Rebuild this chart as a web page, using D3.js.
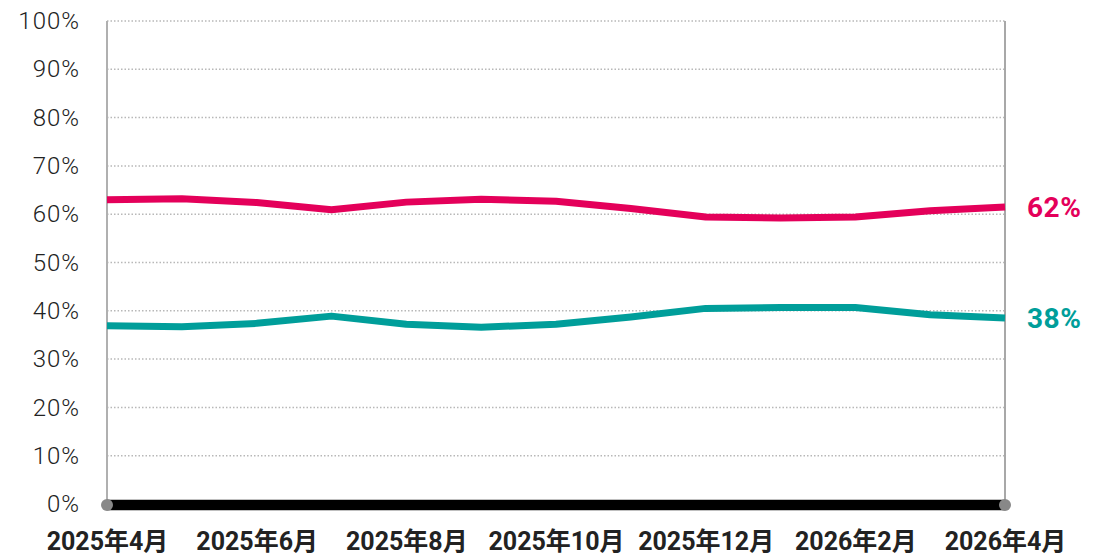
<!DOCTYPE html>
<html>
<head>
<meta charset="utf-8">
<script src="https://cdn.jsdelivr.net/npm/d3@7"></script>
<style>
  body { margin: 0; background: #fff; }
  svg { font-family: "Roboto", "Noto Sans CJK JP", sans-serif; }
</style>
</head>
<body>
<svg id="chart" width="1112" height="557"></svg>
<script>
// monthly points, 2025年4月 .. 2026年4月
const months = ['2025年4月','2025年5月','2025年6月','2025年7月','2025年8月','2025年9月','2025年10月',
  '2025年11月','2025年12月','2026年1月','2026年2月','2026年3月','2026年4月']
const redValues = [63.0, 63.2, 62.4, 60.9, 62.5, 63.1, 62.7, 61.2, 59.4, 59.2, 59.4, 60.7, 61.5]
const tealValues = [36.9, 36.7, 37.4, 38.9, 37.2, 36.6, 37.2, 38.7, 40.5, 40.7, 40.7, 39.2, 38.5]
const endLabels = ['62%', '38%']
const yTicks = [0, 10, 20, 30, 40, 50, 60, 70, 80, 90, 100]
const xTickLabels = ['2025年4月','2025年6月','2025年8月','2025年10月','2025年12月','2026年2月','2026年4月']

const RED = '#e4005a'
const TEAL = '#009e9a'

const svg = d3.select('#chart')
const margin = { top: 21, left: 107, right: 107, bottom: 53 }
const width = 1112, height = 557

const x = d3.scalePoint()
  .domain(months)
  .range([margin.left, width - margin.right])

const y = d3.scaleLinear()
  .domain([0, 100])
  .range([height - margin.bottom, margin.top])

// dotted gridlines
svg.append('g')
  .selectAll('line')
  .data(yTicks.filter(d => d > 0))
  .join('line')
    .attr('x1', margin.left)
    .attr('x2', width - margin.right)
    .attr('y1', d => y(d))
    .attr('y2', d => y(d))
    .attr('stroke', '#b8b8b8')
    .attr('stroke-width', 1.5)
    .attr('stroke-dasharray', '1.5,2')

// left and right frame lines
svg.append('line')
  .attr('x1', margin.left).attr('x2', margin.left)
  .attr('y1', y(100)).attr('y2', y(0))
  .attr('stroke', '#b0b0b0').attr('stroke-width', 2)
svg.append('line')
  .attr('x1', width - margin.right).attr('x2', width - margin.right)
  .attr('y1', y(100)).attr('y2', y(0))
  .attr('stroke', '#a8a8a8').attr('stroke-width', 2)

// y axis labels
const yAxis = d3.axisLeft(y).tickValues(yTicks).tickFormat(d => d + '%').tickSize(0).tickPadding(27)
svg.append('g')
  .attr('transform', `translate(${margin.left},0)`)
  .call(yAxis)
  .call(g => g.select('.domain').remove())
  .selectAll('text')
    .attr('font-size', 24)
    .attr('font-weight', 300)
    .attr('letter-spacing', '1px')
    .attr('font-family', '"Roboto", sans-serif')
    .attr('fill', '#222')

// baseline with grey end dots
svg.append('line')
  .attr('x1', margin.left).attr('x2', width - margin.right)
  .attr('y1', y(0) - 1).attr('y2', y(0) - 1)
  .attr('stroke', '#bbb').attr('stroke-width', 1.5)
svg.append('line')
  .attr('x1', margin.left).attr('x2', width - margin.right)
  .attr('y1', y(0) + 1).attr('y2', y(0) + 1)
  .attr('stroke', '#000').attr('stroke-width', 10.5)
svg.selectAll('circle.end')
  .data([months[0], months[months.length - 1]])
  .join('circle')
    .attr('class', 'end')
    .attr('cx', d => x(d))
    .attr('cy', y(0) + 1)
    .attr('r', 6)
    .attr('fill', '#888')

// x axis labels
const xAxis = d3.axisBottom(x).tickValues(xTickLabels).tickSize(0).tickPadding(28)
svg.append('g')
  .attr('transform', `translate(0,${y(0)})`)
  .call(xAxis)
  .call(g => g.select('.domain').remove())
  .selectAll('text')
    .attr('font-size', 25)
    .attr('font-weight', 'bold')
    .attr('fill', '#222')
    .attr('font-family', '"Roboto", "Noto Sans CJK JP", sans-serif')

// the two series
const line = d3.line()
  .x((d, i) => x(months[i]))
  .y(d => y(d))

const series = [
  { values: redValues, color: RED, label: endLabels[0] },
  { values: tealValues, color: TEAL, label: endLabels[1] }
]

svg.append('g')
  .selectAll('path')
  .data(series)
  .join('path')
    .attr('d', d => line(d.values))
    .attr('fill', 'none')
    .attr('stroke', d => d.color)
    .attr('stroke-width', 7)
    .attr('stroke-linejoin', 'round')

svg.append('g')
  .selectAll('text')
  .data(series)
  .join('text')
    .attr('x', width - margin.right + 22)
    .attr('y', d => y(d.values[d.values.length - 1]))
    .attr('dy', '0.36em')
    .attr('font-size', 28)
    .attr('font-weight', 'bold')
    .attr('letter-spacing', '0.5px')
    .attr('fill', d => d.color)
    .text(d => d.label)
</script>
</body>
</html>
